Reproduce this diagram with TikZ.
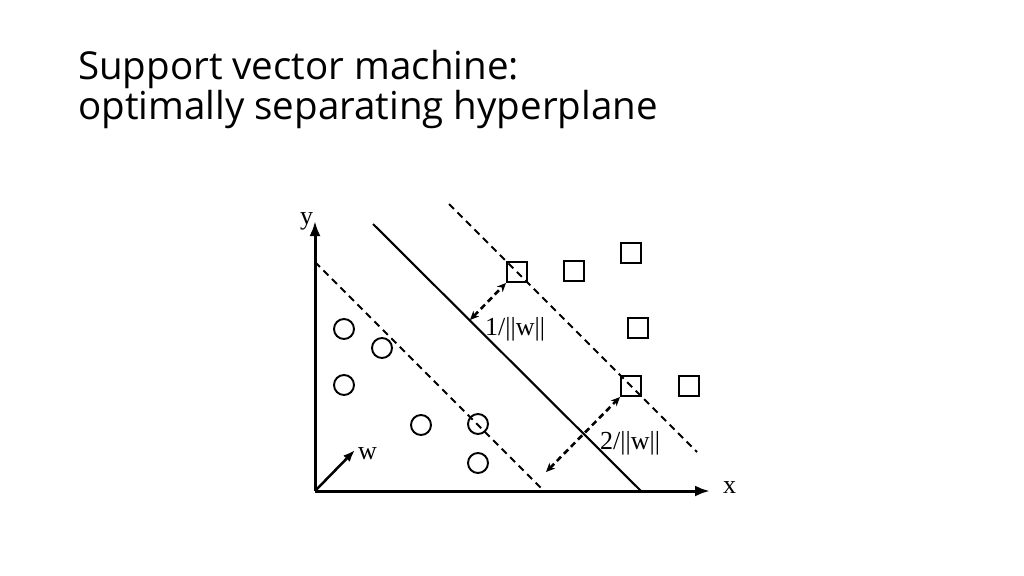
\documentclass[tikz,border=0pt]{standalone}
\usepackage{fontspec}
\setmainfont{Liberation Serif}
\newfontfamily\titlefont{Open Sans}
\usetikzlibrary{arrows.meta}
\begin{document}
\begin{tikzpicture}[x=1pt,y=-1pt,
  axis/.style={line width=3pt,-{Latex[length=15pt,width=11pt]}},
  hyper/.style={line width=2.1pt},
  margin/.style={line width=2pt,dash pattern=on 7pt off 5pt},
  gap/.style={line width=2.6pt,dash pattern=on 6pt off 4pt,{Stealth[length=9pt,width=8pt]}-{Stealth[length=9pt,width=8pt]}},
  sq/.style={draw,line width=2pt,minimum size=20pt,inner sep=0pt},
  circ/.style={draw,circle,line width=1.9pt,minimum size=20pt,inner sep=0pt},
  lbl/.style={font=\fontsize{26}{30}\selectfont,inner sep=0pt,anchor=base west},
  ttl/.style={font=\titlefont\fontsize{38.5}{44}\selectfont,anchor=base west,inner sep=0pt}]
\useasboundingbox (0,0) rectangle (1024,575);
% title
\node[ttl] (t1) at (78,80) {Support vector machine:};
\node[ttl] (t2) at (78,119) {optimally separating hyperplane};
% axes
\coordinate (O) at (315,491);
\coordinate (Ytip) at (315,221);
\coordinate (Xtip) at (710,491);
\draw[axis] (O) -- (Ytip);
\draw[axis] (O) -- (Xtip);
\node[lbl] (ylab) at (300,224) {y};
\node[lbl] (xlab) at (723,493) {x};
% hyperplanes
\coordinate (L1) at (315,262); \coordinate (L2) at (544,491);
\coordinate (H1) at (373,224); \coordinate (H2) at (641,491);
\coordinate (R1) at (449,204); \coordinate (R2) at (697,452);
\draw[margin] (L1) -- (L2);
\draw[hyper] (H1) -- (H2);
\draw[margin] (R1) -- (R2);
% squares
\node[sq] (s1) at (517,272) {};
\node[sq] (s2) at (574,271) {};
\node[sq] (s3) at (631,253) {};
\node[sq] (s4) at (638,328) {};
\node[sq] (s5) at (631,386) {};
\node[sq] (s6) at (689,386) {};
% circles
\node[circ] (c1) at (344,329) {};
\node[circ] (c2) at (382,348) {};
\node[circ] (c3) at (344,385) {};
\node[circ] (c4) at (421,425) {};
\node[circ] (c5) at (478,424) {};
\node[circ] (c6) at (478,463) {};
% margin arrows
\coordinate (a1) at (470,320);
\coordinate (a2) at (546,472);
\draw[gap] (a1) -- (s1.south west);
\draw[gap] (a2) -- (s5.south west);
\node[lbl] (m1) at (485,335) {1/||w||};
\node[lbl] (m2) at (600,449) {2/||w||};
% w vector
\coordinate (W) at (355,450);
\draw[line width=2.5pt,-{Latex[length=12pt,width=9pt]}] (O) -- (W);
\node[lbl] (wlab) at (358,459) {w};
\end{tikzpicture}
\end{document}
